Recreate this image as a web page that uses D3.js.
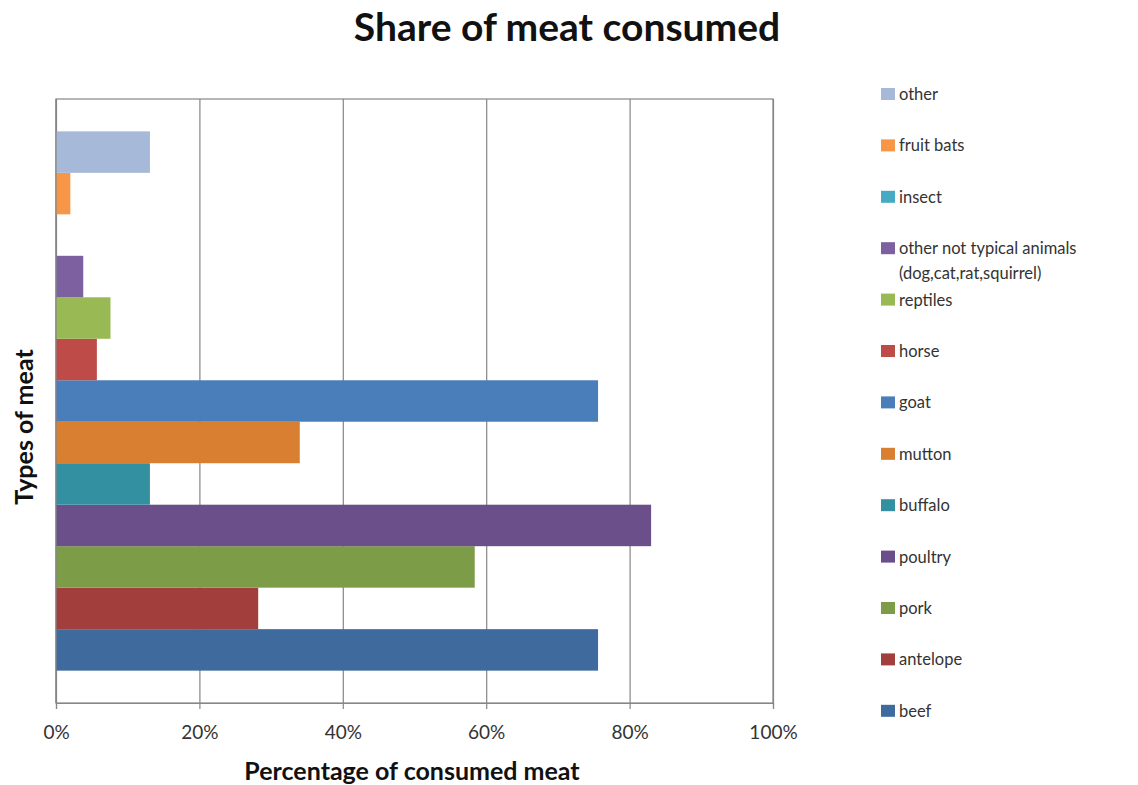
<!DOCTYPE html>
<html>
<head>
<meta charset="utf-8">
<script src="https://cdn.jsdelivr.net/npm/d3@7"></script>
<style>
  body { margin: 0; background: #fff; }
  svg { font-family: Lato, "Open Sans", sans-serif; }
</style>
</head>
<body>
<div id="chart"></div>
<script>
// series, bottom bar first (beef) up to the top bar (other)
const seriesNames = ['beef', 'antelope', 'pork', 'poultry', 'buffalo', 'mutton', 'goat',
  'horse', 'reptiles', 'other not typical animals (dog,cat,rat,squirrel)', 'insect', 'fruit bats', 'other'];
const seriesValues = [0.756, 0.282, 0.584, 0.830, 0.131, 0.340, 0.756,
  0.057, 0.076, 0.038, 0, 0.020, 0.131];
const seriesColors = ['#3E6A9E', '#A23E3C', '#7C9C48', '#6A4F8A', '#3290A1', '#D87F32', '#4A7EBB',
  '#BE4B48', '#98B954', '#7D60A0', '#46AAC5', '#F79646', '#A7B9D9'];
const xTicks = [0, 0.2, 0.4, 0.6, 0.8, 1];

const width = 1138;
const height = 785;
const plot = { left: 56, top: 99, right: 773, bottom: 703 };

const svg = d3.select('#chart')
  .append('svg')
  .attr('width', width)
  .attr('height', height);

const x = d3.scaleLinear()
  .domain([0, 1])
  .range([plot.left, plot.right]);

// top to bottom on screen: other ... beef
const y = d3.scaleBand()
  .domain(seriesNames.slice().reverse())
  .range([plot.top, plot.bottom])
  .paddingInner(0)
  .paddingOuter(0.78);

const color = d3.scaleOrdinal()
  .domain(seriesNames)
  .range(seriesColors);

const data = seriesNames.map((name, i) => ({ name: name, value: seriesValues[i] }));

// gridlines
svg.append('g')
  .attr('class', 'grid')
  .attr('transform', `translate(0,${plot.bottom})`)
  .call(d3.axisBottom(x).tickValues(xTicks).tickSize(-(plot.bottom - plot.top)).tickFormat(''))
  .call(g => g.select('.domain').remove())
  .call(g => g.selectAll('line').attr('stroke', '#868686').attr('stroke-width', 1.2));

// plot border
svg.append('rect')
  .attr('x', plot.left)
  .attr('y', plot.top)
  .attr('width', plot.right - plot.left)
  .attr('height', plot.bottom - plot.top)
  .attr('fill', 'none')
  .attr('stroke', '#868686')
  .attr('stroke-width', 1.2);

// bars
svg.append('g')
  .selectAll('rect')
  .data(data)
  .enter()
  .append('rect')
  .attr('x', x(0))
  .attr('y', d => y(d.name))
  .attr('width', d => x(d.value) - x(0))
  .attr('height', y.bandwidth())
  .attr('fill', d => color(d.name));

// bottom axis
svg.append('g')
  .attr('transform', `translate(0,${plot.bottom})`)
  .call(d3.axisBottom(x).tickValues(xTicks).tickSize(6).tickPadding(17).tickFormat(d3.format('.0%')))
  .call(g => g.select('.domain').attr('stroke', '#868686').attr('stroke-width', 1.2))
  .call(g => g.selectAll('line').attr('stroke', '#868686').attr('stroke-width', 1.2))
  .call(g => g.selectAll('text')
    .attr('fill', '#333')
    .style('font-size', '19px')
    .style('font-family', 'Lato, "Open Sans", sans-serif'));

// left axis line
svg.append('line')
  .attr('x1', plot.left).attr('x2', plot.left)
  .attr('y1', plot.top).attr('y2', plot.bottom)
  .attr('stroke', '#868686')
  .attr('stroke-width', 1.2);

// title
svg.append('text')
  .attr('x', 567)
  .attr('y', 41)
  .attr('text-anchor', 'middle')
  .style('font-size', '39px')
  .style('font-weight', 'bold')
  .attr('fill', '#111')
  .text('Share of meat consumed');

// axis titles
svg.append('text')
  .attr('x', 412)
  .attr('y', 780)
  .attr('text-anchor', 'middle')
  .style('font-size', '25px')
  .style('font-weight', 'bold')
  .attr('fill', '#111')
  .text('Percentage of consumed meat');

svg.append('text')
  .attr('transform', 'translate(33,427) rotate(-90)')
  .attr('text-anchor', 'middle')
  .style('font-size', '25px')
  .style('font-weight', 'bold')
  .attr('fill', '#111')
  .text('Types of meat');

// legend
const legendItems = data.slice().reverse();
const legend = svg.append('g')
  .attr('class', 'legend');

const item = legend.selectAll('g')
  .data(legendItems)
  .enter()
  .append('g')
  .attr('transform', (d, i) => `translate(881,${94 + i * 51.4})`);

item.append('rect')
  .attr('x', 0)
  .attr('y', -6)
  .attr('width', 14)
  .attr('height', 12)
  .attr('fill', d => color(d.name));

item.append('text')
  .attr('x', 18)
  .attr('y', 6)
  .style('font-size', '16.5px')
  .attr('fill', '#333')
  .each(function(d) {
    const m = d.name.match(/^(.*?) (\(.*\))$/);
    const t = d3.select(this);
    if (m) {
      t.append('tspan').attr('x', 18).text(m[1]);
      t.append('tspan').attr('x', 18).attr('dy', 25).text(m[2]);
    } else {
      t.text(d.name);
    }
  });
</script>
</body>
</html>
